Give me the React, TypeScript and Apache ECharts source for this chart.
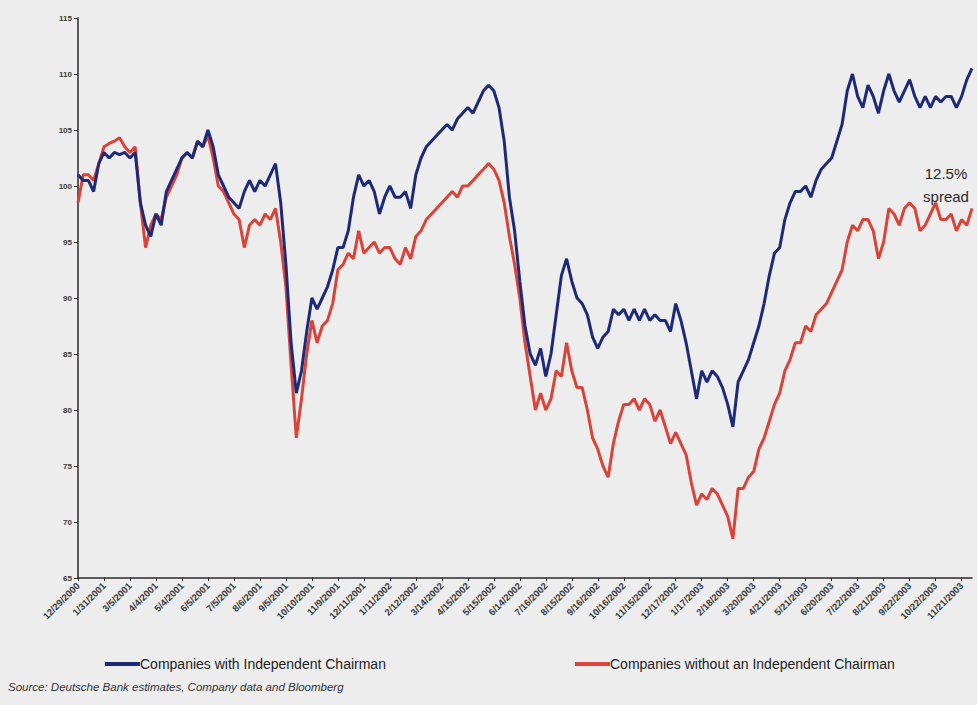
import React, { useEffect, useRef } from "react";
import * as echarts from "echarts";

const tickLabels = [
  "12/29/2000", "1/31/2001", "3/5/2001", "4/4/2001", "5/4/2001", "6/5/2001", "7/5/2001",
  "8/6/2001", "9/5/2001", "10/10/2001", "11/9/2001", "12/11/2001", "1/11/2002", "2/12/2002",
  "3/14/2002", "4/15/2002", "5/15/2002", "6/14/2002", "7/16/2002", "8/15/2002", "9/16/2002",
  "10/16/2002", "11/15/2002", "12/17/2002", "1/17/2003", "2/18/2003", "3/20/2003", "4/21/2003",
  "5/21/2003", "6/20/2003", "7/22/2003", "8/21/2003", "9/22/2003", "10/22/2003", "11/21/2003",
];

const withIndependent = [
  101, 100.5, 100.5, 99.5, 102, 103, 102.5, 103, 102.8, 103, 102.5, 103, 98.5, 96.5, 95.5, 97.5, 96.5, 99.5, 100.5, 101.5,
  102.5, 103, 102.5, 104, 103.5, 105, 103.5, 101, 100, 99, 98.5, 98, 99.5, 100.5, 99.5, 100.5, 100, 101, 102, 98.5,
  93, 86, 81.5, 83.5, 87, 90, 89, 90, 91, 92.5, 94.5, 94.5, 96, 99, 101, 100, 100.5, 99.5, 97.5, 99,
  100, 99, 99, 99.5, 98, 101, 102.5, 103.5, 104, 104.5, 105, 105.5, 105, 106, 106.5, 107, 106.5, 107.5, 108.5, 109,
  108.5, 107, 104, 99, 96, 91.5, 87.5, 85, 84, 85.5, 83, 85, 88.5, 92, 93.5, 91.5, 90, 89.5, 88.5, 86.5,
  85.5, 86.5, 87, 89, 88.5, 89, 88, 89, 88, 89, 88, 88.5, 88, 88, 87, 89.5, 88, 86, 83.5, 81,
  83.5, 82.5, 83.5, 83, 82, 80.5, 78.5, 82.5, 83.5, 84.5, 86, 87.5, 89.5, 92, 94, 94.5, 97, 98.5, 99.5, 99.5,
  100, 99, 100.5, 101.5, 102, 102.5, 104, 105.5, 108.5, 110, 108, 107, 109, 108, 106.5, 108.5, 110, 108.5, 107.5, 108.5,
  109.5, 108, 107, 108, 107, 108, 107.5, 108, 108, 107, 108, 109.5, 110.5,
];

const withoutIndependent = [
  98.5, 101, 101, 100.5, 102, 103.5, 103.8, 104, 104.3, 103.5, 103, 103.5, 98.5, 94.5, 96.5, 97.5, 97, 99, 100, 101,
  102.5, 103, 102.5, 104, 103.5, 104.5, 102.5, 100, 99.5, 98.5, 97.5, 97, 94.5, 96.5, 97, 96.5, 97.5, 97, 98, 95,
  91, 84, 77.5, 81, 85, 88, 86, 87.5, 88, 89.5, 92.5, 93, 94, 93.5, 96, 94, 94.5, 95, 94, 94.5,
  94.5, 93.5, 93, 94.5, 93.5, 95.5, 96, 97, 97.5, 98, 98.5, 99, 99.5, 99, 100, 100, 100.5, 101, 101.5, 102,
  101.5, 100.5, 98.5, 95.5, 93, 90, 86, 83, 80, 81.5, 80, 81, 83.5, 83, 86, 83.5, 82, 82, 80, 77.5,
  76.5, 75, 74, 77, 79, 80.5, 80.5, 81, 80, 81, 80.5, 79, 80, 78.5, 77, 78, 77, 76, 73.5, 71.5,
  72.5, 72, 73, 72.5, 71.5, 70.5, 68.5, 73, 73, 74, 74.5, 76.5, 77.5, 79, 80.5, 81.5, 83.5, 84.5, 86, 86,
  87.5, 87, 88.5, 89, 89.5, 90.5, 91.5, 92.5, 95, 96.5, 96, 97, 97, 96, 93.5, 95, 98, 97.5, 96.5, 98,
  98.5, 98, 96, 96.5, 97.5, 98.5, 97, 97, 97.5, 96, 97, 96.5, 98,
];

const seriesNames = ["Companies with Independent Chairman", "Companies without an Independent Chairman"];
const yTicks = [65, 70, 75, 80, 85, 90, 95, 100, 105, 110, 115];

export default function App() {
  const ref = useRef<HTMLDivElement>(null);
  useEffect(() => {
    if (!ref.current) return;
    const chart = echarts.init(ref.current, undefined, { renderer: "svg" });
    const font = "'Liberation Sans', Arial, sans-serif";
    const toPairs = (arr: number[]) => arr.map((v, i) => [i, v]);
    const legendText = { fontSize: 14, color: "#222", fontFamily: font, padding: [0, 0, 0, -5] };
    chart.setOption({
      animation: false,
      backgroundColor: "#ededed",
      textStyle: { fontFamily: font },
      grid: { left: 78, right: 5, top: 18, bottom: 127, containLabel: false },
      xAxis: {
        type: "value",
        min: 0,
        max: withIndependent.length - 1,
        interval: 5,
        splitLine: { show: false },
        axisLine: { show: true, lineStyle: { color: "#2a2a2a", width: 1.5 } },
        axisTick: { show: true, length: 3, lineStyle: { color: "#2a2a2a" } },
        axisLabel: {
          rotate: 45,
          fontSize: 9.5,
          fontWeight: "bold",
          color: "#3a3a3a",
          margin: 6,
          showMaxLabel: false,
          formatter: (v: number) => tickLabels[Math.round(v / 5)] ?? "",
        },
      },
      yAxis: {
        type: "value",
        min: yTicks[0],
        max: yTicks[yTicks.length - 1],
        interval: 5,
        splitLine: { show: false },
        axisLine: { show: true, lineStyle: { color: "#2a2a2a", width: 1.5 } },
        axisTick: { show: true, length: 4, lineStyle: { color: "#2a2a2a" } },
        axisLabel: { fontSize: 8, fontWeight: "bold", color: "#3a3a3a", margin: 6 },
      },
      legend: [
        {
          data: [seriesNames[0]],
          left: 100,
          top: 652,
          icon: "rect",
          itemWidth: 35,
          itemHeight: 4,
          textStyle: legendText,
        },
        {
          data: [seriesNames[1]],
          left: 570,
          top: 652,
          icon: "rect",
          itemWidth: 35,
          itemHeight: 4,
          textStyle: legendText,
        },
      ],
      graphic: [
        {
          type: "text",
          x: 946,
          y: 162,
          style: {
            text: "12.5%\nspread",
            fontSize: 15,
            lineHeight: 23,
            fill: "#2a2a2a",
            align: "center",
            verticalAlign: "top",
            fontFamily: font,
          },
        },
        {
          type: "text",
          left: 8,
          top: 681,
          style: {
            text: "Source: Deutsche Bank estimates, Company data and Bloomberg",
            fontSize: 11.5,
            fontStyle: "italic",
            fill: "#333",
            fontFamily: font,
          },
        },
      ],
      series: [
        {
          name: seriesNames[1],
          type: "line",
          data: toPairs(withoutIndependent),
          showSymbol: false,
          smooth: false,
          lineStyle: { color: "#d8443a", width: 3 },
          itemStyle: { color: "#d8443a" },
          z: 2,
        },
        {
          name: seriesNames[0],
          type: "line",
          data: toPairs(withIndependent),
          showSymbol: false,
          smooth: false,
          lineStyle: { color: "#1e2a78", width: 3 },
          itemStyle: { color: "#1e2a78" },
          z: 3,
        },
      ],
    });
    return () => chart.dispose();
  }, []);
  return (
    <div
      ref={ref}
      style={{ position: "absolute", left: 0, top: 0, width: 977, height: 705, background: "#ededed" }}
    />
  );
}
